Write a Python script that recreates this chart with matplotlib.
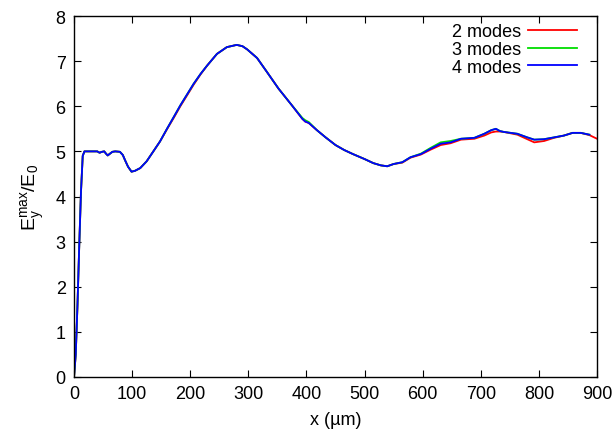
import matplotlib.pyplot as plt

plt.rcParams['font.family'] = ['Liberation Sans', 'DejaVu Sans']
plt.rcParams['mathtext.fontset'] = 'custom'
plt.rcParams['mathtext.rm'] = 'Liberation Sans'
plt.rcParams['mathtext.it'] = 'Liberation Sans'

# positions along x (um)
x_pos = [0, 3, 6, 9, 12, 15, 18, 30, 40, 44, 48, 52, 55, 58, 62, 66, 71, 79, 84, 88,
         93, 99, 105, 114, 125, 136, 148, 160, 172, 183, 195, 206, 218, 229, 246, 263,
         280, 290, 298, 315, 332, 352, 375, 393, 398, 404, 418, 433, 450, 465, 480,
         500, 515, 528, 539, 550, 565, 579, 597, 614, 631, 648, 666, 689, 706, 718,
         726, 733, 740, 763, 780, 792, 809, 826, 843, 858, 872, 887]
x_red = x_pos + [900]

y_4modes = [0, 0.5, 1.6, 2.9, 4.1, 4.9, 5.0, 5.0, 5.0, 4.97, 4.99, 5.0, 4.95, 4.91, 4.95,
            4.99, 5.0, 4.99, 4.92, 4.8, 4.66, 4.55, 4.57, 4.63, 4.78, 4.99, 5.22, 5.5,
            5.77, 6.02, 6.27, 6.5, 6.72, 6.9, 7.16, 7.31, 7.36, 7.33, 7.26, 7.07, 6.76,
            6.39, 6.02, 5.72, 5.66, 5.63, 5.47, 5.31, 5.14, 5.03, 4.94, 4.83, 4.74, 4.69,
            4.67, 4.72, 4.76, 4.87, 4.94, 5.06, 5.17, 5.2, 5.28, 5.3, 5.39, 5.47, 5.5,
            5.45, 5.43, 5.39, 5.31, 5.26, 5.27, 5.31, 5.35, 5.41, 5.41, 5.37]

y_3modes = [0, 0.5, 1.6, 2.9, 4.1, 4.9, 5.0, 5.0, 5.0, 4.97, 4.99, 5.0, 4.95, 4.91, 4.95,
            4.99, 5.0, 4.99, 4.92, 4.8, 4.66, 4.55, 4.57, 4.63, 4.78, 4.99, 5.22, 5.5,
            5.77, 6.02, 6.27, 6.5, 6.72, 6.9, 7.16, 7.31, 7.36, 7.33, 7.26, 7.07, 6.76,
            6.39, 6.02, 5.74, 5.69, 5.65, 5.47, 5.31, 5.14, 5.03, 4.94, 4.83, 4.74, 4.69,
            4.67, 4.72, 4.76, 4.87, 4.95, 5.08, 5.2, 5.23, 5.28, 5.3, 5.39, 5.47, 5.5,
            5.45, 5.43, 5.39, 5.31, 5.26, 5.27, 5.31, 5.35, 5.41, 5.41, 5.37]

y_2modes = [0, 0.5, 1.6, 2.9, 4.1, 4.9, 5.0, 5.0, 5.0, 4.97, 4.99, 5.0, 4.95, 4.91, 4.95,
            4.99, 5.0, 4.99, 4.92, 4.8, 4.66, 4.55, 4.57, 4.63, 4.78, 4.99, 5.22, 5.49,
            5.75, 6.0, 6.25, 6.48, 6.71, 6.9, 7.16, 7.31, 7.36, 7.33, 7.26, 7.07, 6.76,
            6.39, 6.02, 5.72, 5.66, 5.63, 5.47, 5.31, 5.14, 5.03, 4.94, 4.83, 4.74, 4.69,
            4.67, 4.72, 4.75, 4.86, 4.93, 5.04, 5.14, 5.18, 5.26, 5.28, 5.35, 5.42, 5.44,
            5.44, 5.43, 5.37, 5.27, 5.2, 5.23, 5.3, 5.35, 5.41, 5.41, 5.36, 5.28]

labels = ['2 modes', '3 modes', '4 modes']
colors = ['#ff0000', '#00dd00', '#0000ff']

fig = plt.figure(figsize=(6.15, 4.31), dpi=100)
ax = fig.add_axes([74 / 615, 1 - 378 / 431, 523 / 615, 361 / 431])

ax.plot(x_red, y_2modes, color=colors[0], lw=1.3, label=labels[0])
ax.plot(x_pos, y_3modes, color=colors[1], lw=1.3, label=labels[1])
ax.plot(x_pos, y_4modes, color=colors[2], lw=1.3, label=labels[2])

ax.set_xlim(0, 900)
ax.set_ylim(0, 8)
ax.set_xticks(range(0, 901, 100))
ax.set_yticks(range(0, 9))
ax.tick_params(direction='in', top=True, right=True, length=5, width=0.8,
               labelsize=13, pad=6)
for s in ax.spines.values():
    s.set_linewidth(1.0)

ax.set_xlabel(u'x (\u00b5m)', fontsize=13, labelpad=6)
ax.set_ylabel(r'$\mathregular{E_y^{max}/E_0}$', fontsize=14, labelpad=6)

ax.legend(loc='upper right', bbox_to_anchor=(503 / 523, (378 - 24) / 361),
          frameon=False, markerfirst=False, fontsize=13, borderpad=0,
          borderaxespad=0, handlelength=2.7, handletextpad=0.4,
          labelspacing=0.05)

fig.savefig('out.png', dpi=100)
